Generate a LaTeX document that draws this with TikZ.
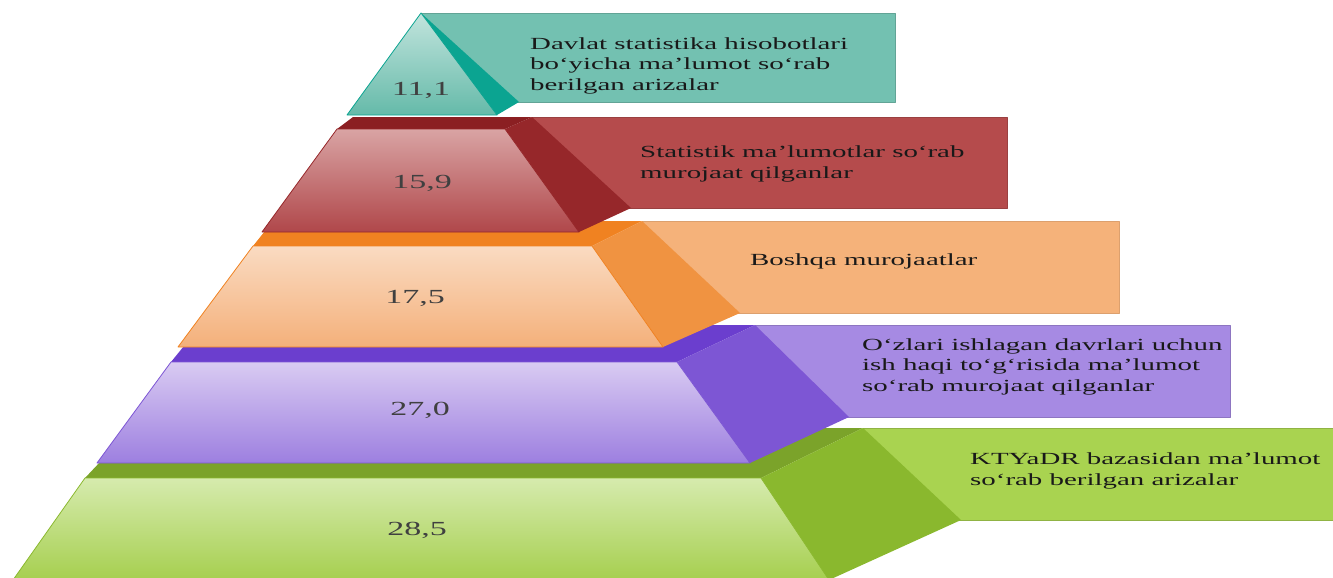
\documentclass[tikz,border=0pt]{standalone}
\usepackage{fontspec}
\setmainfont{Liberation Serif}[FakeStretch=1.7]
\usepackage{xcolor}
\usepackage{tikz}

\definecolor{tealbox}{HTML}{73C1B1}
\definecolor{tealside}{HTML}{0BA491}
\definecolor{tealtop}{HTML}{C2E4DD}
\definecolor{tealbot}{HTML}{65BAA9}
\definecolor{redbox}{HTML}{B54B4C}
\definecolor{redstrip}{HTML}{8B1F22}
\definecolor{redside}{HTML}{96272A}
\definecolor{redtop}{HTML}{D9A4A4}
\definecolor{redbot}{HTML}{B0474A}
\definecolor{orgbox}{HTML}{F5B27A}
\definecolor{orgstrip}{HTML}{F08221}
\definecolor{orgside}{HTML}{F09341}
\definecolor{orgtop}{HTML}{FADBC2}
\definecolor{orgbot}{HTML}{F4B07A}
\definecolor{purbox}{HTML}{A68AE3}
\definecolor{purstrip}{HTML}{6B3ECE}
\definecolor{purside}{HTML}{7D56D4}
\definecolor{purtop}{HTML}{D9CBF2}
\definecolor{purbot}{HTML}{9D7FE0}
\definecolor{grnbox}{HTML}{A9D350}
\definecolor{grnstrip}{HTML}{7BA32A}
\definecolor{grnside}{HTML}{8AB82E}
\definecolor{grntop}{HTML}{D6EBAE}
\definecolor{grnbot}{HTML}{A6CF4F}

\tikzset{
  infotext/.style={align=left, inner sep=0pt, anchor=base west, text=black!90,
    font=\fontsize{17}{20.5}\selectfont},
  numtext/.style={inner sep=0pt, text=black!75, font=\fontsize{20}{24}\selectfont},
}

\begin{document}
\begin{tikzpicture}[x=1pt, y=-1pt, line join=round]
  \useasboundingbox (0,0) rectangle (1333,578);
  \clip (0,0) rectangle (1333,578);

  \fill[grnbox, draw=grnbox!85!black, line width=0.6pt] (863,428) rectangle (1345,520);
  \fill[grnstrip] (85,478) -- (132,428) -- (863,428) -- (761,478) -- cycle;
  \fill[grnside] (761,478) -- (863,428) -- (961,520) -- (829,580) -- cycle;
  \shade[top color=grntop, bottom color=grnbot, draw=grnside, line width=0.8pt]
    (85,478) -- (761,478) -- (829,580) -- (13,580) -- cycle;

  \fill[purbox, draw=purbox!85!black, line width=0.6pt] (755,325) rectangle (1230,417);
  \fill[purstrip] (171,362) -- (201,325) -- (755,325) -- (677,362) -- cycle;
  \fill[purside] (677,362) -- (755,325) -- (849,417) -- (750,463) -- cycle;
  \shade[top color=purtop, bottom color=purbot, draw=purside, line width=0.8pt]
    (171,362) -- (677,362) -- (750,463) -- (97,463) -- cycle;

  \fill[orgbox, draw=orgbox!90!black, line width=0.6pt] (642,221) rectangle (1119,313);
  \fill[orgstrip] (253,246) -- (273,221) -- (642,221) -- (592,246) -- cycle;
  \fill[orgside] (592,246) -- (642,221) -- (740,313) -- (663,347) -- cycle;
  \shade[top color=orgtop, bottom color=orgbot, draw=orgstrip, line width=0.8pt]
    (253,246) -- (592,246) -- (663,347) -- (178,347) -- cycle;

  \fill[redbox, draw=redbox!85!black, line width=0.6pt] (532,117) rectangle (1007,208);
  \fill[redstrip] (337,129) -- (353,117) -- (532,117) -- (505,129) -- cycle;
  \fill[redside] (505,129) -- (532,117) -- (631,208) -- (579,232) -- cycle;
  \shade[top color=redtop, bottom color=redbot, draw=redside, line width=0.8pt]
    (337,129) -- (505,129) -- (579,232) -- (262,232) -- cycle;

  \fill[tealbox, draw=tealbox!85!black, line width=0.6pt] (421,13) rectangle (895,102);
  \fill[tealside] (421,13) -- (519,102) -- (497,115) -- cycle;
  \shade[top color=tealtop, bottom color=tealbot, draw=tealside, line width=0.8pt]
    (421,13) -- (497,115) -- (347,115) -- cycle;

  \node[numtext] at (421,90) (n1) {11,1};
  \node[numtext] at (422,183) (n2) {15,9};
  \node[numtext] at (415,298) (n3) {17,5};
  \node[numtext] at (420,410) (n4) {27,0};
  \node[numtext] at (417,530) (n5) {28,5};

  \node[infotext] at (530,90) (t1) {Davlat statistika hisobotlari\\bo‘yicha ma’lumot so‘rab\\berilgan arizalar};
  \node[infotext] at (640,178) (t2) {Statistik ma’lumotlar so‘rab\\murojaat qilganlar};
  \node[infotext] at (750,265) (t3) {Boshqa murojaatlar};
  \node[infotext] at (862,391) (t4) {O‘zlari ishlagan davrlari uchun\\ish haqi to‘g‘risida ma’lumot\\so‘rab murojaat qilganlar};
  \node[infotext] at (970,485) (t5) {KTYaDR bazasidan ma’lumot\\so‘rab berilgan arizalar};
\end{tikzpicture}
\end{document}
